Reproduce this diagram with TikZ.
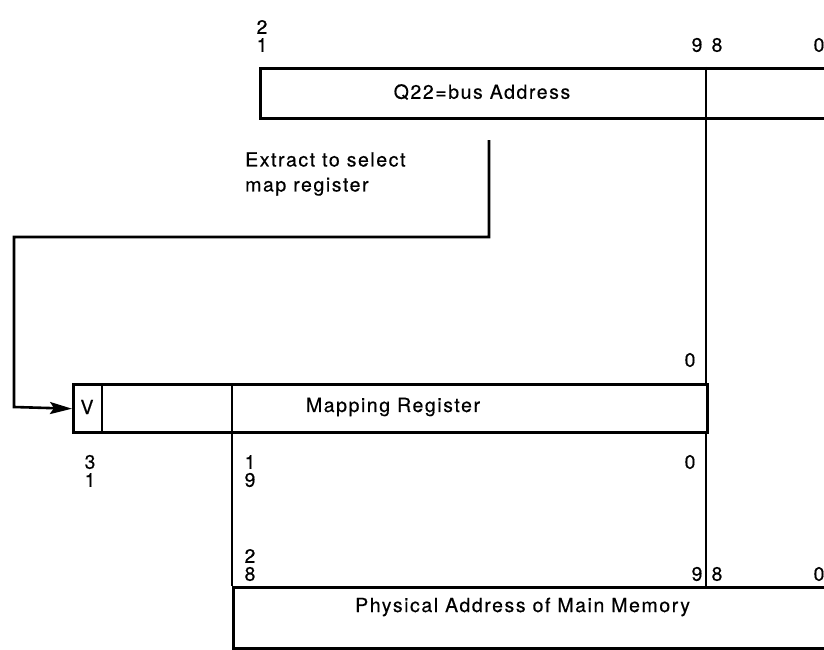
\documentclass[tikz,border=0pt]{standalone}
\usepackage{fontspec}
\setmainfont[LetterSpace=8,FakeBold=0.4]{TeX Gyre Heros}
\usetikzlibrary{arrows.meta}
\begin{document}
\begin{tikzpicture}[x=1pt,y=-1pt,
  font=\fontsize{19.5}{22}\selectfont,
  regbox/.style={draw, line width=3.4pt, inner sep=0pt, anchor=north west},
  divider/.style={line width=2pt},
  conn/.style={line width=2.6pt},
  bitno/.style={inner sep=0pt, anchor=center},
  lbl/.style={inner sep=0pt, anchor=center}]
\useasboundingbox (0,0) rectangle (824,650);
\begin{scope}
\clip (0,0) rectangle (824,650);
% top register
\node[regbox, minimum width=620pt, minimum height=50pt] (qbus) at (259,67) {};
\node[lbl] (qtext) at (482,92) {Q22=bus Address};
% mapping register
\node[regbox, minimum width=634pt, minimum height=48pt] (mapreg) at (72,383) {};
\node[lbl] (vtext) at (87,407) {V};
\node[lbl] (mtext) at (393,407) {Mapping Register};
% physical address
\node[regbox, minimum width=620pt, minimum height=61pt] (phys) at (232,586) {};
\node[lbl, anchor=west] (ptext) at (355,607) {Physical Address of Main Memory};
% coordinates
\coordinate (d1t) at (706,67);
\coordinate (d1b) at (706,383);
\coordinate (d2t) at (706,431);
\coordinate (d2b) at (706,586);
\coordinate (vdt) at (102,383);
\coordinate (vdb) at (102,431);
\coordinate (fdt) at (232,383);
\coordinate (fdb) at (232,586);
\draw[divider] (d1t) -- (d1b);
\draw[divider] (d2t) -- (d2b);
\draw[divider] (vdt) -- (vdb);
\draw[divider] (fdt) -- (fdb);
% extract connector
\coordinate (ex0) at (489,140);
\coordinate (ex1) at (489,237);
\coordinate (ex2) at (14,237);
\coordinate (ex3) at (14,407);
\draw[conn, -{Stealth[length=22pt,width=12pt,inset=4pt]}] (ex0) -- (ex1) -- (ex2) -- (ex3) -- (mapreg.west);
\node[inner sep=0pt, anchor=west, align=left, font=\fontsize{19.5}{25}\selectfont] (extxt) at (245,174) {Extract to select\\map register};
% bit numbers
\node[bitno] (b1) at (262,27) {2};
\node[bitno] (b2) at (262,45) {1};
\node[bitno] (b3) at (697,45) {9};
\node[bitno] (b4) at (717,45) {8};
\node[bitno] (b5) at (819,45) {0};
\node[bitno] (b6) at (690,360) {0};
\node[bitno] (b7) at (90,462) {3};
\node[bitno] (b8) at (90,480) {1};
\node[bitno] (b9) at (250,462) {1};
\node[bitno] (b10) at (250,480) {9};
\node[bitno] (b11) at (690,462) {0};
\node[bitno] (b12) at (250,556) {2};
\node[bitno] (b13) at (250,574) {8};
\node[bitno] (b14) at (697,574) {9};
\node[bitno] (b15) at (717,574) {8};
\node[bitno] (b16) at (819,574) {0};
\end{scope}
\end{tikzpicture}
\end{document}
